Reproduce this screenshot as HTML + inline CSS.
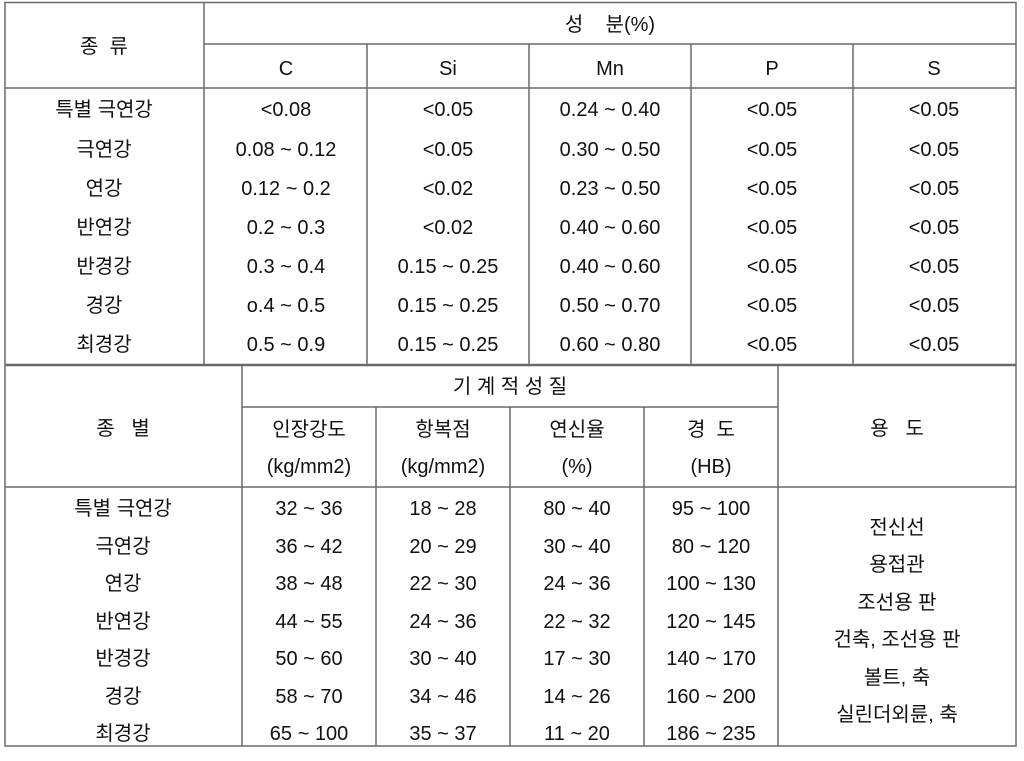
<!DOCTYPE html>
<html><head><meta charset="utf-8"><style>
html,body{margin:0;padding:0;background:#fff;}
svg{display:block}
text{font-family:"Liberation Sans","Noto Sans CJK KR",sans-serif;font-size:20px;fill:#111;text-anchor:middle;dominant-baseline:central;}
</style></head><body>
<svg width="1024" height="761" viewBox="0 0 1024 761" xmlns="http://www.w3.org/2000/svg">
<g stroke="#6a6a6a" stroke-width="1.5" fill="none">
<rect x="5" y="2.5" width="1011" height="743.5"/>
<line x1="204" y1="2" x2="204" y2="365"/>
<line x1="204" y1="44" x2="1016" y2="44"/>
<line x1="5" y1="88" x2="1016" y2="88"/>
<line x1="367" y1="44" x2="367" y2="365"/>
<line x1="529" y1="44" x2="529" y2="365"/>
<line x1="691" y1="44" x2="691" y2="365"/>
<line x1="853" y1="44" x2="853" y2="365"/>
<line x1="5" y1="365" x2="1016" y2="365" stroke-width="2.5"/>
<line x1="242" y1="365" x2="242" y2="746"/>
<line x1="778" y1="365" x2="778" y2="746"/>
<line x1="242" y1="407" x2="778" y2="407"/>
<line x1="5" y1="487" x2="1016" y2="487"/>
<line x1="376" y1="407" x2="376" y2="746"/>
<line x1="510" y1="407" x2="510" y2="746"/>
<line x1="644" y1="407" x2="644" y2="746"/>
</g>
<g transform="translate(0,2)">
<text x="104" y="45" xml:space="preserve">종  류</text>
<text x="610" y="23" xml:space="preserve">성    분(%)</text>
<text x="286" y="67">C</text><text x="448" y="67">Si</text><text x="610" y="67">Mn</text><text x="772" y="67">P</text><text x="934" y="67">S</text>
<text x="104" y="108">특별 극연강</text><text x="286" y="108">&lt;0.08</text><text x="448" y="108">&lt;0.05</text><text x="610" y="108">0.24 ~ 0.40</text><text x="772" y="108">&lt;0.05</text><text x="934" y="108">&lt;0.05</text>
<text x="104" y="148">극연강</text><text x="286" y="148">0.08 ~ 0.12</text><text x="448" y="148">&lt;0.05</text><text x="610" y="148">0.30 ~ 0.50</text><text x="772" y="148">&lt;0.05</text><text x="934" y="148">&lt;0.05</text>
<text x="104" y="187">연강</text><text x="286" y="187">0.12 ~ 0.2</text><text x="448" y="187">&lt;0.02</text><text x="610" y="187">0.23 ~ 0.50</text><text x="772" y="187">&lt;0.05</text><text x="934" y="187">&lt;0.05</text>
<text x="104" y="226">반연강</text><text x="286" y="226">0.2 ~ 0.3</text><text x="448" y="226">&lt;0.02</text><text x="610" y="226">0.40 ~ 0.60</text><text x="772" y="226">&lt;0.05</text><text x="934" y="226">&lt;0.05</text>
<text x="104" y="265">반경강</text><text x="286" y="265">0.3 ~ 0.4</text><text x="448" y="265">0.15 ~ 0.25</text><text x="610" y="265">0.40 ~ 0.60</text><text x="772" y="265">&lt;0.05</text><text x="934" y="265">&lt;0.05</text>
<text x="104" y="304">경강</text><text x="286" y="304">o.4 ~ 0.5</text><text x="448" y="304">0.15 ~ 0.25</text><text x="610" y="304">0.50 ~ 0.70</text><text x="772" y="304">&lt;0.05</text><text x="934" y="304">&lt;0.05</text>
<text x="104" y="343">최경강</text><text x="286" y="343">0.5 ~ 0.9</text><text x="448" y="343">0.15 ~ 0.25</text><text x="610" y="343">0.60 ~ 0.80</text><text x="772" y="343">&lt;0.05</text><text x="934" y="343">&lt;0.05</text>
<text x="510" y="385">기 계 적 성 질</text>
<text x="123" y="427" xml:space="preserve">종   별</text>
<text x="897" y="427" xml:space="preserve">용   도</text>
<text x="309" y="428">인장강도</text><text x="443" y="428">항복점</text><text x="577" y="428">연신율</text><text x="711" y="428" xml:space="preserve">경  도</text>
<text x="309" y="465">(kg/mm2)</text><text x="443" y="465">(kg/mm2)</text><text x="577" y="465">(%)</text><text x="711" y="465">(HB)</text>
<text x="123" y="507">특별 극연강</text><text x="309" y="507">32 ~ 36</text><text x="443" y="507">18 ~ 28</text><text x="577" y="507">80 ~ 40</text><text x="711" y="507">95 ~ 100</text>
<text x="123" y="545">극연강</text><text x="309" y="545">36 ~ 42</text><text x="443" y="545">20 ~ 29</text><text x="577" y="545">30 ~ 40</text><text x="711" y="545">80 ~ 120</text>
<text x="123" y="582">연강</text><text x="309" y="582">38 ~ 48</text><text x="443" y="582">22 ~ 30</text><text x="577" y="582">24 ~ 36</text><text x="711" y="582">100 ~ 130</text>
<text x="123" y="620">반연강</text><text x="309" y="620">44 ~ 55</text><text x="443" y="620">24 ~ 36</text><text x="577" y="620">22 ~ 32</text><text x="711" y="620">120 ~ 145</text>
<text x="123" y="657">반경강</text><text x="309" y="657">50 ~ 60</text><text x="443" y="657">30 ~ 40</text><text x="577" y="657">17 ~ 30</text><text x="711" y="657">140 ~ 170</text>
<text x="123" y="695">경강</text><text x="309" y="695">58 ~ 70</text><text x="443" y="695">34 ~ 46</text><text x="577" y="695">14 ~ 26</text><text x="711" y="695">160 ~ 200</text>
<text x="123" y="732">최경강</text><text x="309" y="732">65 ~ 100</text><text x="443" y="732">35 ~ 37</text><text x="577" y="732">11 ~ 20</text><text x="711" y="732">186 ~ 235</text>
<text x="897" y="526">전신선</text>
<text x="897" y="563">용접관</text>
<text x="897" y="601">조선용 판</text>
<text x="897" y="638">건축, 조선용 판</text>
<text x="897" y="676">볼트, 축</text>
<text x="897" y="713">실린더외륜, 축</text>
</g>
</svg>
</body></html>
